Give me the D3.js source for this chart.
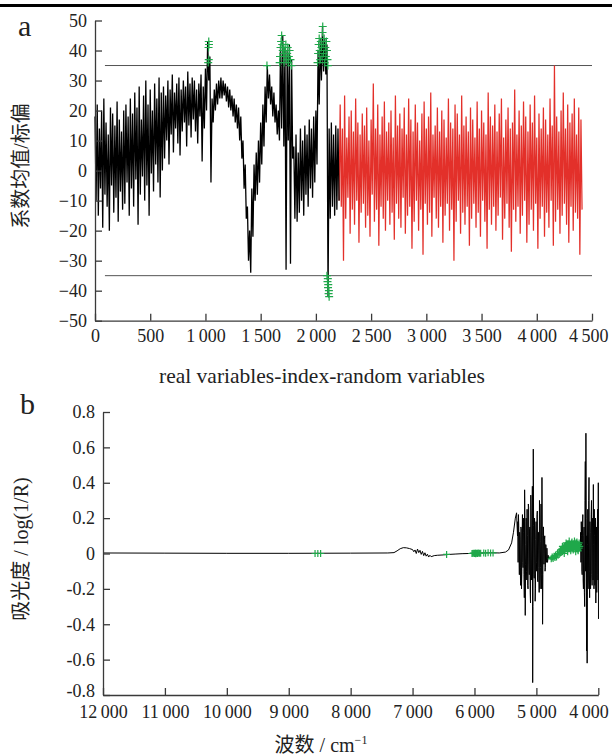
<!DOCTYPE html>
<html>
<head>
<meta charset="utf-8">
<script src="https://cdn.jsdelivr.net/npm/d3@7"></script>
<style>
  body { margin: 0; background: #fff; }
  svg { display: block; }
  text { font-family: "Liberation Serif", "Noto Sans CJK SC", serif; fill: #222; }
</style>
</head>
<body>
<svg width="612" height="755"></svg>
<script>
// ---- panel a data: coefficient mean / std, upper and lower trace in bins of 20 variables ----
var binA = 20
var realStart = 0
var realHigh = [
  18, 22, 14, 20, 24, 16, 12, 21, 19, 15, 23, 17, 13, 20, 22, 18,
  24, 19, 26, 21, 28, 17, 25, 30, 22, 27, 20, 29, 24, 31, 26,
  28, 25, 30, 27, 32, 26, 29, 31, 27, 30, 28, 33, 29, 31, 30, 27, 29, 32, 28, 34,
  43, 38,
  24, 27, 29, 30, 31, 30, 29, 28, 27, 25, 24, 22, 21,
  18, 10, 2, -12, -20, -6, 2, 6, 10, 16,
  22, 28, 35, 32, 28, 26, 22, 20,
  42, 45, 41, 40, 42, 37,
  8, 12, 6, 14, 10, 15, 12, 17, 14, 18, 20,
  40, 44, 48, 44, 42,
  14, 16, 12, 15, 14
]
var realLow = [
  -10, -15, -6, -19, -8, -12, -20, -5, -14, -9, -17, -7, -13, -11, -4, -15,
  -6, -12, -3, -18, -8, -2, -10, -5, -15, -1, -7, 2, -4, -9, 0,
  4, 10, 2, 12, 6, 14, 9, 5, 13, 16, 8, 15, 11, 17, 13, 9, 18, 3, 14, 20,
  30, -4,
  16, 20, 22, 24, 24, 25, 23, 21, 20, 18, 16, 14, 10,
  4, -6, -16, -30, -34, -22, -10, -8, -4, 2,
  8, 16, 24, 22, 18, 16, 12, 10,
  14, 8, -33, 10, -31, 4,
  -16, -17, -14, -10, -15, -8, -12, -6, -9, -4, 2,
  22, 30, 33, 32, -42,
  -16, -12, -15, -13, -10
]
var randomStart = 2220
var randomHigh = [
  22, 14, 25, 11, 18, 20, 13, 24, 16, 12,
  19, 15, 21, 10, 17, 29, 14, 22, 12, 18,
  23, 13, 16, 20, 11, 25, 15, 19, 14, 21,
  12, 24, 17, 13, 22, 16, 10, 19, 23, 14,
  18, 26, 12, 15, 21, 13, 20, 17, 11, 24,
  16, 14, 22, 19, 12, 25, 15, 18, 13, 21,
  17, 11, 23, 14, 20, 16, 12, 26, 18, 15,
  22, 13, 19, 24, 11, 17, 21, 14, 16, 27,
  12, 20, 15, 23, 18, 13, 22, 16, 25, 11,
  19, 14, 21, 17, 12, 24, 15, 35, 18, 13,
  20, 26, 14, 22, 16, 19, 24, 12, 21, 17
]
var randomLow = [
  -12, -30, -16, -9, -21, -13, -18, -10, -24, -14,
  -11, -19, -15, -22, -8, -17, -13, -25, -12, -16,
  -20, -10, -18, -14, -23, -11, -16, -19, -9, -21,
  -15, -12, -26, -17, -10, -20, -13, -28, -11, -18,
  -14, -22, -9, -16, -19, -12, -24, -15, -11, -20,
  -13, -30, -17, -10, -21, -14, -18, -12, -25, -16,
  -11, -19, -14, -22, -10, -17, -26, -13, -18, -12,
  -20, -15, -9, -23, -16, -11, -19, -27, -13, -17,
  -12, -21, -15, -10, -24, -18, -13, -20, -11, -26,
  -16, -12, -22, -14, -19, -10, -25, -17, -13, -21,
  -15, -11, -18, -24, -12, -20, -14, -16, -28, -13
]
var thresholdA = 35
// selected variables (green +) in panel a
var selIndexA = [1025, 1030, 1028, 1032, 1030, 1557,
  1672, 1675, 1680, 1685, 1690, 1695, 1700, 1705, 1710, 1712, 1718, 1722, 1728, 1735, 1740, 1745, 1750, 1755, 1762, 1770, 1778,
  2015, 2020, 2025, 2030, 2035, 2040, 2045, 2050, 2055, 2060, 2062, 2065, 2070, 2075, 2080, 2085, 2090, 2095, 2100, 2105, 2108,
  2100, 2105, 2110, 2115, 2108, 2112, 2118, 2120]
var selValueA = [36, 37, 41, 42, 43, 35,
  36, 38, 41, 43, 45, 42, 40, 39, 41, 36, 38, 40, 42, 37, 39, 41, 36, 38, 40, 37, 35,
  36, 39, 42, 44, 40, 37, 43, 41, 38, 46, 48, 42, 39, 44, 36, 41, 38, 43, 40, 37, 35,
  -35, -37, -39, -41, -36, -38, -40, -42]
var xTicksA = [0, 500, 1000, 1500, 2000, 2500, 3000, 3500, 4000, 4500]
var yTicksA = [-50, -40, -30, -20, -10, 0, 10, 20, 30, 40, 50]

// ---- panel b data: spectrum, wavenumber (cm-1) and absorbance ----
var waveB = [12000, 11000, 10000, 9000, 8000, 7400, 7300, 7250, 7200, 7150, 7100, 7050, 7000,
  6980, 6960, 6940, 6920, 6900, 6880, 6860, 6840, 6820, 6800, 6780, 6760, 6740, 6720, 6700,
  6650, 6600, 6500, 6400, 6300, 6200, 6100, 6000, 5900, 5800, 5700, 5600, 5500, 5450, 5400, 5370, 5340, 5320,
  5305, 5300, 5295, 5290, 5285, 5280, 5275, 5270, 5265, 5260, 5255, 5250, 5245, 5240, 5235, 5230,
  5225, 5220, 5215, 5210, 5205, 5200, 5195, 5190, 5185, 5180, 5175, 5170, 5165, 5160, 5155, 5150,
  5145, 5140, 5135, 5130, 5125, 5120, 5115, 5110, 5105, 5100, 5095, 5090, 5085, 5080, 5075, 5070,
  5065, 5060, 5055, 5050, 5045, 5040, 5035, 5030, 5025, 5020, 5015, 5010, 5005, 5000, 4995, 4990,
  4985, 4980, 4975, 4970, 4965, 4960, 4955, 4950, 4945, 4940, 4935, 4930, 4925, 4920, 4915, 4910,
  4905, 4900, 4895, 4890, 4885, 4880, 4875, 4870, 4865, 4860, 4855, 4850, 4845, 4840, 4835, 4830,
  4820, 4810, 4800, 4790, 4780,
  4760, 4740, 4720, 4700, 4680, 4660, 4640, 4620, 4600, 4580, 4560, 4540, 4520, 4500, 4480, 4460,
  4440, 4420, 4400, 4380, 4360, 4340, 4320, 4300,
  4290, 4285, 4280, 4275, 4270, 4265, 4260, 4255, 4250, 4245, 4240, 4235, 4230, 4225, 4220, 4215,
  4210, 4205, 4200, 4195, 4190, 4185, 4180, 4175, 4170, 4165, 4160, 4155, 4150, 4145, 4140, 4135,
  4130, 4125, 4120, 4115, 4110, 4105, 4100, 4095, 4090, 4085, 4080, 4075, 4070, 4065, 4060, 4055,
  4050, 4045, 4040, 4035, 4030, 4025, 4020, 4015, 4010, 4005, 4000, 3997]
var absB = [0.003, 0.002, 0.001, 0.001, 0.002, 0.003, 0.005, 0.015, 0.027, 0.033, 0.032, 0.028, 0.022,
  0.01, 0.02, 0.0, 0.025, 0.005, 0.018, -0.005, 0.012, -0.012, 0.004, -0.015, -0.004, -0.02, -0.01, -0.018,
  -0.012, -0.01, -0.008, -0.005, -0.003, -0.001, 0.0, 0.002, 0.003, 0.004, 0.004, 0.003, 0.008, 0.02, 0.06, 0.12, 0.2, 0.23,
  0.1, 0.18, -0.05, 0.22, 0.16, -0.02, -0.12, 0.12, 0.08, -0.08, -0.18, 0.15, 0.14, -0.2, -0.1, 0.1,
  0.22, -0.05, -0.08, 0.2, 0.12, -0.12, -0.25, 0.36, 0.18, -0.35, -0.06, 0.05, 0.2, -0.1, -0.15, 0.25,
  0.1, -0.18, -0.2, 0.28, 0.26, -0.06, -0.12, 0.14, 0.15, -0.22, -0.28, 0.33, 0.2, -0.15, -0.1, 0.1,
  0.38, -0.73, -0.3, 0.59, 0.16, -0.12, -0.14, 0.2, 0.12, -0.27, -0.2, 0.08, 0.18, -0.05, -0.1, 0.22,
  0.24, -0.15, -0.16, 0.12, 0.12, -0.08, -0.22, 0.3, 0.2, -0.2, -0.08, 0.07, 0.28, -0.12, -0.2, 0.43,
  0.1, -0.4, -0.12, 0.15, 0.15, -0.06, -0.06, 0.08, 0.1, -0.1, -0.08, 0.05, 0.05, -0.04, -0.05, 0.03,
  -0.05, -0.01, -0.03, -0.02, -0.03,
  -0.03, -0.02, -0.025, -0.015, -0.02, -0.01, -0.005, 0.0, 0.01, 0.02, 0.015, 0.03, 0.025, 0.04, 0.03, 0.045,
  0.035, 0.05, 0.04, 0.05, 0.03, 0.045, 0.02, 0.04,
  0.02, 0.12, -0.05, 0.18, 0.1, -0.1, -0.12, 0.15, 0.22, -0.15, -0.2, 0.1, 0.15, -0.22, -0.3, 0.3,
  0.52, -0.1, 0.68, 0.2, -0.55, 0.1, -0.62, 0.05, 0.25, -0.2, -0.15, 0.3, 0.43, -0.1, -0.25, 0.18,
  0.12, -0.2, -0.1, 0.22, 0.3, -0.12, -0.18, 0.15, 0.2, -0.15, 0.39, 0.05, -0.2, 0.25, 0.1, -0.18,
  -0.05, 0.2, -0.28, 0.1, 0.15, -0.22, -0.12, 0.18, 0.25, -0.15, 0.4, -0.37]
// selected wavenumbers (green +) in panel b
var selWaveB = [8575, 8530, 8485, 6450,
  6040, 6020, 6000, 5990, 5980, 5970, 5960, 5950, 5940, 5920, 5900, 5850, 5820, 5780, 5740, 5700,
  4760, 4745, 4730, 4715, 4700, 4690, 4675, 4660, 4650, 4635, 4620, 4610, 4600, 4590, 4580, 4570,
  4560, 4550, 4540, 4530, 4520, 4510, 4500, 4490, 4480, 4470, 4460, 4450, 4440, 4430, 4420, 4410,
  4400, 4390, 4380, 4370, 4360, 4350, 4340, 4330, 4320, 4310, 4300,
  4580, 4550, 4520, 4495, 4470, 4445, 4425, 4405, 4385, 4365, 4345, 4325, 4310]
var selAbsB = [0, 0, 0, -0.005,
  0, 0.002, 0, 0.003, -0.002, 0.001, 0.002, 0, 0.003, 0.001, 0.002, 0.003, 0.002, 0.004, 0.003, 0.003,
  -0.03, -0.02, -0.028, -0.015, -0.022, -0.01, -0.02, 0.0, -0.01, 0.01, 0.0, 0.02, 0.005, 0.025, 0.01, 0.03,
  0.015, 0.04, 0.02, 0.045, 0.025, 0.05, 0.03, 0.055, 0.035, 0.06, 0.03, 0.05, 0.025, 0.06, 0.04, 0.03,
  0.055, 0.035, 0.05, 0.025, 0.06, 0.035, 0.045, 0.02, 0.05, 0.03, 0.04,
  0.04, 0.0, 0.06, 0.01, 0.07, 0.015, 0.065, 0.02, 0.07, 0.01, 0.065, 0.015, 0.06]
var xTicksB = [12000, 11000, 10000, 9000, 8000, 7000, 6000, 5000, 4000]
var yTicksB = [-0.8, -0.6, -0.4, -0.2, 0, 0.2, 0.4, 0.6, 0.8]

var svg = d3.select("svg")
var axisColor = "#3a3a3a"
var green = "#1fa84a"
var thousands = function(d) {
  return d >= 1000 ? Math.floor(d / 1000) + "\u2009" + d3.format("03d")(d % 1000) : String(d)
}

// thick rule at the top of the page
svg.append("line")
  .attr("x1", 0).attr("x2", 612)
  .attr("y1", 5.5).attr("y2", 5.5)
  .attr("stroke", "#000")
  .attr("stroke-width", 3)

function styleAxis(g) {
  g.attr("font-family", null)
  g.selectAll("path, line").attr("stroke", axisColor).attr("stroke-width", 1.3)
  g.selectAll("text").attr("font-size", 18).attr("fill", "#222")
}

function plusPath(px, py, s) {
  return "M" + (px - s) + "," + py + "H" + (px + s) + "M" + px + "," + (py - s) + "V" + (py + s)
}

// upper / lower values of each bin become one dense zig-zag trace
function binTrace(start, high, low) {
  var pts = []
  high.forEach(function(h, i) {
    pts.push([start + i * binA, h])
    pts.push([start + i * binA + binA / 2, low[i]])
  })
  return pts
}

// ================= panel a =================
var xA = d3.scaleLinear().domain([0, 4500]).range([95, 592])
var yA = d3.scaleLinear().domain([-50, 50]).range([320.7, 20.5])

var lineA = d3.line()
  .x(d => xA(d[0]))
  .y(d => yA(d[1]))

var realData = binTrace(realStart, realHigh, realLow)
var randomData = binTrace(randomStart, randomHigh, randomLow)
randomData.unshift(realData[realData.length - 1])

var gA = svg.append("g")

// threshold lines at +/- 35
gA.selectAll(".thr")
  .data([thresholdA, -thresholdA])
  .enter()
  .append("line")
  .attr("x1", xA(90)).attr("x2", xA(4500))
  .attr("y1", d => yA(d)).attr("y2", d => yA(d))
  .attr("stroke", "#555")
  .attr("stroke-width", 1)

gA.append("path")
  .attr("d", lineA(randomData))
  .attr("fill", "none")
  .attr("stroke", "#e3302a")
  .attr("stroke-width", 1.25)

gA.append("path")
  .attr("d", lineA(realData))
  .attr("fill", "none")
  .attr("stroke", "#000")
  .attr("stroke-width", 1.3)

gA.append("path")
  .attr("d", selIndexA.map((d, i) => plusPath(xA(d), yA(selValueA[i]), 4)).join(""))
  .attr("fill", "none")
  .attr("stroke", green)
  .attr("stroke-width", 1.2)

var axA = svg.append("g")
  .attr("transform", "translate(0," + yA(-50) + ")")
  .call(d3.axisBottom(xA).tickValues(xTicksA).tickFormat(thousands).tickSizeInner(-7).tickSizeOuter(0).tickPadding(9))
  .call(styleAxis)
axA.selectAll(".tick text").filter(d => d == 4500).attr("text-anchor", "end").attr("dx", 16)

svg.append("g")
  .attr("transform", "translate(" + xA(0) + ",0)")
  .call(d3.axisLeft(yA).tickValues(yTicksA).tickSizeInner(-7).tickSizeOuter(0).tickPadding(8))
  .call(styleAxis)

svg.append("text")
  .attr("x", 18).attr("y", 36)
  .attr("font-size", 30)
  .text("a")

svg.append("text")
  .attr("transform", "translate(28,166) rotate(-90)")
  .attr("text-anchor", "middle")
  .attr("font-size", 20)
  .text("系数均值/标偏")

svg.append("text")
  .attr("x", 322).attr("y", 383)
  .attr("text-anchor", "middle")
  .attr("font-size", 21.5)
  .text("real variables-index-random variables")

// ================= panel b =================
var xB = d3.scaleLinear().domain([12000, 4000]).range([103, 598.3])
var yB = d3.scaleLinear().domain([-0.8, 0.8]).range([695, 412])

var lineB = d3.line()
  .x(d => xB(d[0]))
  .y(d => yB(d[1]))

svg.append("path")
  .attr("d", lineB(waveB.map((w, i) => [w, absB[i]])))
  .attr("fill", "none")
  .attr("stroke", "#000")
  .attr("stroke-width", 1)

svg.append("path")
  .attr("d", selWaveB.map((d, i) => plusPath(xB(d), yB(selAbsB[i]), 3.5)).join(""))
  .attr("fill", "none")
  .attr("stroke", green)
  .attr("stroke-width", 1.2)

var axB = svg.append("g")
  .attr("transform", "translate(0," + yB(-0.8) + ")")
  .call(d3.axisBottom(xB).tickValues(xTicksB).tickFormat(thousands).tickSizeInner(-7).tickSizeOuter(0).tickPadding(10))
  .call(styleAxis)
axB.selectAll(".tick text").filter(d => d == 4000).attr("text-anchor", "end").attr("dx", 10)

var ayB = svg.append("g")
  .attr("transform", "translate(" + xB(12000) + ",0)")
  .call(d3.axisLeft(yB).tickValues(yTicksB).tickFormat(d => d === 0 ? "0" : d.toFixed(1)).tickSizeInner(-7).tickSizeOuter(0).tickPadding(8))
  .call(styleAxis)
ayB.selectAll(".tick text").filter(d => d == -0.8).attr("dy", "0.1em")

svg.append("text")
  .attr("x", 20).attr("y", 414)
  .attr("font-size", 30)
  .text("b")

svg.append("text")
  .attr("transform", "translate(28,549) rotate(-90)")
  .attr("text-anchor", "middle")
  .attr("font-size", 20)
  .text("吸光度 / log(1/R)")

var xLabelB = svg.append("text")
  .attr("x", 321).attr("y", 752)
  .attr("text-anchor", "middle")
  .attr("font-size", 20)
xLabelB.append("tspan").text("波数 / cm")
xLabelB.append("tspan").attr("dy", -8).attr("font-size", 12).text("−1")
</script>
</body>
</html>
